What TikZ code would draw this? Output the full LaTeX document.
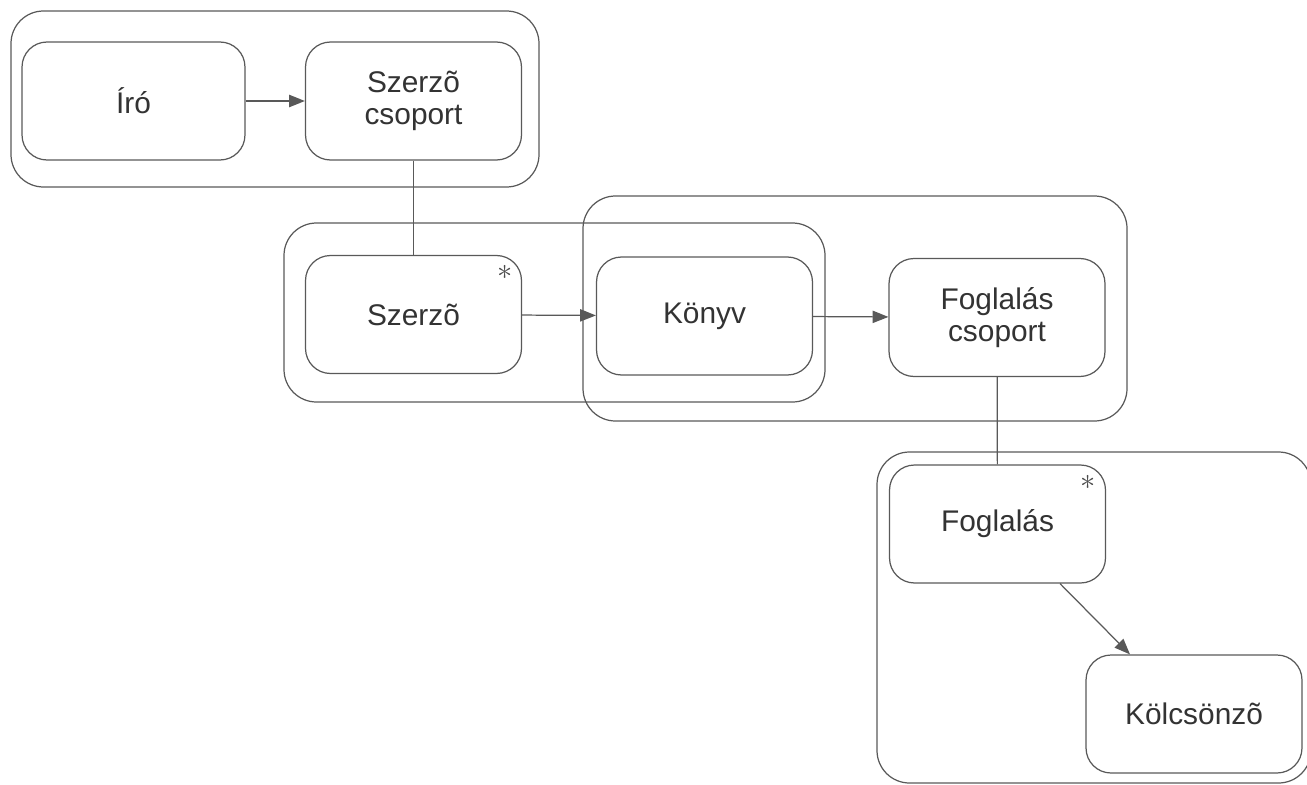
\documentclass[tikz,border=0pt]{standalone}
\usepackage{fontspec}
\setmainfont{Liberation Sans}
\usetikzlibrary{arrows.meta}

\begin{document}
\begin{tikzpicture}[x=0.02cm,y=-0.02cm,>={Triangle[length=9pt,width=7pt]},font=\fontsize{17}{18.5}\selectfont]
\tikzstyle{ent}=[draw=black!65,line width=0.7pt,rounded corners=0.5cm,minimum width=4.32cm,minimum height=2.36cm,align=center,text=black!80]
\tikzstyle{grp}=[draw=black!65,line width=0.7pt,rounded corners=0.65cm]
\tikzstyle{link}=[draw=black!65,line width=0.7pt]
\tikzstyle{astx}=[inner sep=0pt,text=black!70,font=\fontsize{16}{16}\selectfont]
\useasboundingbox (0,0) rectangle (1307,784);
% group frames
\draw[grp] (11,11) rectangle (539,187);
\draw[grp] (284,223) rectangle (825,402);
\draw[grp] (583,196) rectangle (1127,421);
\draw[grp] (877,452) rectangle (1311,783);
% entities
\node[ent,minimum width=4.46cm] (iro) at (133.5,101) {Író};
\node[ent] (szcsop) at (413.5,101) {Szerzõ\\csoport};
\node[ent] (szerzo) at (413.5,314.5) {Szerzõ};
\node[ent] (konyv) at (704.5,316) {Könyv};
\node[ent] (fcsop) at (997,317.5) {Foglalás\\csoport};
\node[ent] (fogl) at (997.5,524) {Foglalás};
\node[ent] (kolcs) at (1194,714) {Kölcsönzõ};
\node[astx] (szerzoast) at (505,272) {$\ast$};
\node[astx] (foglast) at (1088,482) {$\ast$};
% connectors
\draw[link,->] (iro) -- (szcsop);
\draw[link] (szcsop) -- (szerzo);
\draw[link,->] (szerzo) -- (konyv);
\draw[link,->] (konyv) -- (fcsop);
\draw[link] (fcsop) -- (fogl);
\draw[link,->] ([xshift=1.25cm]fogl.south) -- ([xshift=-1.28cm]kolcs.north);
\end{tikzpicture}
\end{document}
